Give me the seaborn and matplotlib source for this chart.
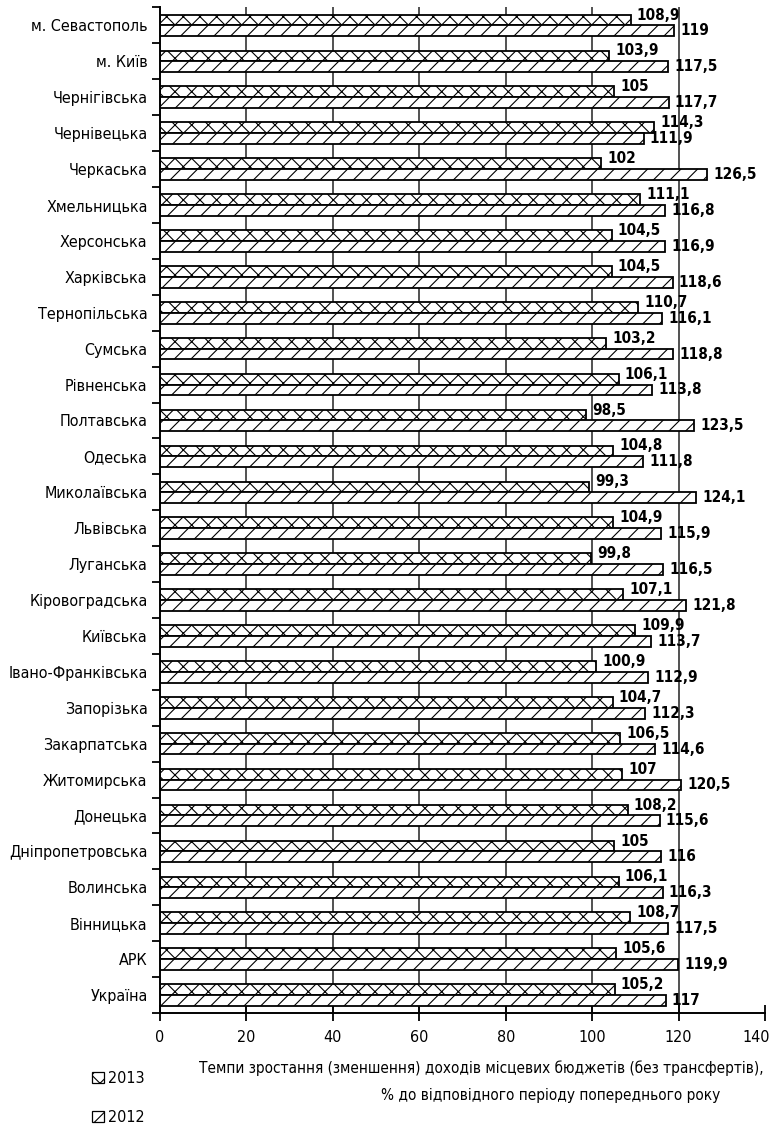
import numpy as np
import pandas as pd
import matplotlib.pyplot as plt
import seaborn as sns
from matplotlib.patches import Patch
from matplotlib.transforms import ScaledTranslation

# Регіони (зверху вниз) та темпи зростання доходів, %
regions = [
    'м. Севастополь', 'м. Київ', 'Чернігівська', 'Чернівецька', 'Черкаська',
    'Хмельницька', 'Херсонська', 'Харківська', 'Тернопільська', 'Сумська',
    'Рівненська', 'Полтавська', 'Одеська', 'Миколаївська', 'Львівська',
    'Луганська', 'Кіровоградська', 'Київська', 'Івано-Франківська', 'Запорізька',
    'Закарпатська', 'Житомирська', 'Донецька', 'Дніпропетровська', 'Волинська',
    'Вінницька', 'АРК', 'Україна',
]
y2013 = [108.9, 103.9, 105, 114.3, 102, 111.1, 104.5, 104.5, 110.7, 103.2,
         106.1, 98.5, 104.8, 99.3, 104.9, 99.8, 107.1, 109.9, 100.9, 104.7,
         106.5, 107, 108.2, 105, 106.1, 108.7, 105.6, 105.2]
y2012 = [119, 117.5, 117.7, 111.9, 126.5, 116.8, 116.9, 118.6, 116.1, 118.8,
         113.8, 123.5, 111.8, 124.1, 115.9, 116.5, 121.8, 113.7, 112.9, 112.3,
         114.6, 120.5, 115.6, 116, 116.3, 117.5, 119.9, 117]
years = ['2013', '2012']
hatches = {'2013': 'xx', '2012': '//'}
x_ticks = [0, 20, 40, 60, 80, 100, 120, 140]

xlabel_1 = 'Темпи зростання (зменшення) доходів місцевих бюджетів (без трансфертів),'
xlabel_2 = '% до відповідного періоду попереднього року'

sns.set_theme(style='white')
plt.rcParams['font.family'] = ['DejaVu Sans']
plt.rcParams['font.stretch'] = 'condensed'
plt.rcParams['hatch.linewidth'] = 0.8
for key in ['text.color', 'axes.labelcolor', 'xtick.color', 'ytick.color']:
    plt.rcParams[key] = 'black'

n = len(regions)
df = pd.DataFrame({
    'region': regions * 2,
    'value': y2013 + y2012,
    'year': ['2013'] * n + ['2012'] * n,
})

fs = 11.5
fig = plt.figure(figsize=(7.72, 11.27), dpi=100)
ax = fig.add_axes([0.2073, 0.10115, 0.7837, 0.8922])

sns.barplot(data=df, y='region', x='value', hue='year', hue_order=years,
            order=regions, orient='h', width=0.6, ax=ax, legend=False,
            zorder=2)

# штрихування та підписи значень
for cont, yr in zip(ax.containers, years):
    dy = 3.6 if yr == '2013' else 0
    for p in cont:
        p.set_facecolor('white')
        p.set_edgecolor('black')
        p.set_linewidth(1.3)
        p.set_hatch(hatches[yr])
        w = p.get_width()
        ax.annotate(f'{w:g}'.replace('.', ','),
                    xy=(w, p.get_y() + p.get_height() / 2),
                    xytext=(4.5, dy), textcoords='offset points',
                    ha='left', va='center', fontsize=11, fontweight='bold',
                    zorder=4, annotation_clip=False)

ax.set_xlim(x_ticks[0], x_ticks[-1])
ax.set_xticks(x_ticks)
ax.set_ylim(n - 0.5, -0.5)
ax.set_yticks(np.arange(-0.5, n), minor=True)

# вертикальна сітка (без лінії на 0 та 140)
ax.vlines(x_ticks[1:-1], -0.5, n - 0.5, color='#333333', lw=1.2, zorder=0.5)

ax.set_xlabel('')
ax.set_ylabel('')
sns.despine(ax=ax)
for side in ['left', 'bottom']:
    ax.spines[side].set_color('black')
    ax.spines[side].set_linewidth(1.4)

ax.tick_params(axis='y', which='major', length=0, pad=9, labelsize=fs)
ax.tick_params(axis='y', which='minor', left=True, length=6, width=1.3,
               direction='out')
ax.tick_params(axis='x', which='major', bottom=True, length=12, width=1.3,
               direction='inout', pad=6, labelsize=fs)

# підпис "140" зсунутий ліворуч, щоб не виходив за край
last = ax.get_xticklabels()[-1]
last.set_transform(last.get_transform()
                   + ScaledTranslation(-9 / 100, 0, fig.dpi_scale_trans))

fig.text(481 / 772, 1 - 1068 / 1127, xlabel_1, ha='center', va='center',
         fontsize=11)
fig.text(551 / 772, 1 - 1095 / 1127, xlabel_2, ha='center', va='center',
         fontsize=11)

handles = [Patch(facecolor='white', edgecolor='black', lw=0.9,
                 hatch=hatches[yr], label=yr) for yr in years]
fig.legend(handles=handles, loc='upper left',
           bbox_to_anchor=(92 / 772, 1 - 1071 / 1127), frameon=False,
           handlelength=0.75, handleheight=0.75, handletextpad=0.25,
           labelspacing=1.5, fontsize=fs, borderaxespad=0, borderpad=0)

fig.savefig('out.png', dpi=100)
